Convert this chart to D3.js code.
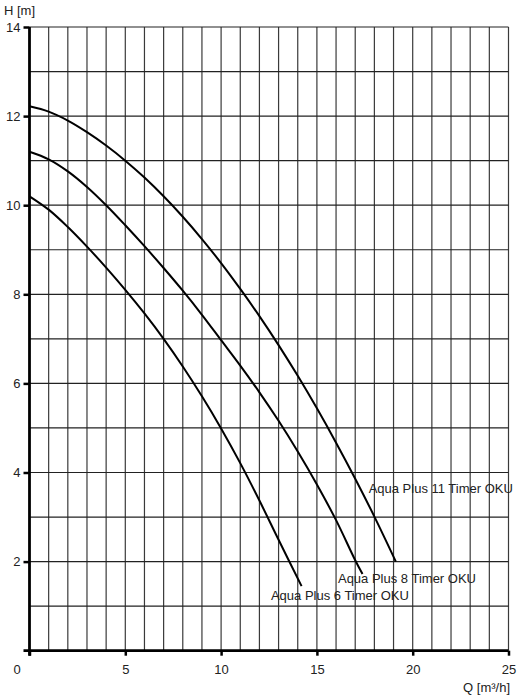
<!DOCTYPE html>
<html>
<head>
<meta charset="utf-8">
<script src="https://cdn.jsdelivr.net/npm/d3@7"></script>
<style>
  body { margin: 0; background: #fff; }
  text { font-family: "Liberation Sans", Arial, sans-serif; fill: #222; }
</style>
</head>
<body>
<div id="chart"></div>
<script>

const W = 517;
const H = 700;

const X_LEFT = 29.5;
const X_RIGHT = 508.5;
const Y_TOP = 27;
const Y_BOTTOM = 650.7;

// -------------------------------------------------

const x_ticks = [0, 5, 10, 15, 20, 25];
const y_ticks = [2, 4, 6, 8, 10, 12, 14];

const curve_names = ["Aqua Plus 6 Timer OKU", "Aqua Plus 8 Timer OKU", "Aqua Plus 11 Timer OKU"];

const curve_6 = [[0, 10.2], [1, 9.9], [2, 9.51], [3, 9.07], [4, 8.6], [5, 8.1], [6, 7.57], [7, 7.0],
                 [8, 6.38], [9, 5.71], [10, 4.99], [11, 4.21], [12, 3.37], [13, 2.49], [14.2, 1.45]];

const curve_8 = [[0, 11.2], [1, 11.03], [2, 10.76], [3, 10.41], [4, 10.0], [5, 9.55], [6, 9.08], [7, 8.59],
                 [8, 8.08], [9, 7.54], [10, 6.97], [11, 6.4], [12, 5.8], [13, 5.16], [14, 4.47],
                 [15, 3.73], [16, 2.93], [17, 2.03], [17.38, 1.72]];

const curve_11 = [[0, 12.22], [1, 12.1], [2, 11.9], [3, 11.64], [4, 11.34], [5, 11.0], [6, 10.62], [7, 10.2],
                  [8, 9.74], [9, 9.24], [10, 8.7], [11, 8.12], [12, 7.51], [13, 6.86], [14, 6.17],
                  [15, 5.44], [16, 4.67], [17, 3.86], [18, 3.01], [19.12, 2.0]];

// label anchor points in data units (left end of text baseline)
const label_pos = [[12.6, 1.13], [16.1, 1.52], [17.7, 3.54]];

// -------------------------------------------------

let svg = d3.select("#chart")
            .append("svg")
                .attr("width", W)
                .attr("height", H);

let scaleX = d3.scaleLinear()
                .domain([0, 25])
                .range([X_LEFT, X_RIGHT]);

let scaleY = d3.scaleLinear()
                .domain([0, 14])
                .range([Y_BOTTOM, Y_TOP]);

// ------------------------------------------------- grid

svg.append("g")
    .selectAll("line")
    .data(d3.range(1, 26))
    .join("line")
        .attr("x1", d => scaleX(d))
        .attr("x2", d => scaleX(d))
        .attr("y1", scaleY(14))
        .attr("y2", scaleY(0))
        .attr("stroke", "#3a3a3a")
        .attr("stroke-width", 1.2);

svg.append("g")
    .selectAll("line")
    .data(d3.range(1, 15))
    .join("line")
        .attr("x1", scaleX(0))
        .attr("x2", scaleX(25))
        .attr("y1", d => scaleY(d))
        .attr("y2", d => scaleY(d))
        .attr("stroke", "#222")
        .attr("stroke-width", 1.2);

// ------------------------------------------------- axes

let axisX = d3.axisBottom(scaleX)
                .tickValues(x_ticks)
                .tickSize(5)
                .tickSizeOuter(0)
                .tickFormat(d3.format("d"));

let gx = svg.append("g")
    .attr("transform", "translate(0," + Y_BOTTOM + ")")
    .call(axisX);

gx.select(".domain").remove();
gx.selectAll(".tick line").attr("stroke", "#000").attr("stroke-width", 2.5);
gx.selectAll(".tick text")
    .attr("y", 14)
    .attr("font-size", 13)
    .attr("fill", "#222")
    .attr("font-family", "Liberation Sans, Arial, sans-serif");
gx.selectAll(".tick").filter(d => d === 0).select("text").attr("x", -13);

let axisY = d3.axisLeft(scaleY)
                .tickValues(y_ticks)
                .tickSize(6)
                .tickSizeOuter(0)
                .tickFormat(d3.format("d"));

let gy = svg.append("g")
    .attr("transform", "translate(" + X_LEFT + ",0)")
    .call(axisY);

gy.select(".domain").remove();
gy.selectAll(".tick line").attr("stroke", "#000").attr("stroke-width", 2.5);
gy.selectAll(".tick text")
    .attr("x", -9)
    .attr("font-size", 13)
    .attr("fill", "#222")
    .attr("font-family", "Liberation Sans, Arial, sans-serif");

// thick axis lines
svg.append("line")
    .attr("x1", X_LEFT - 6)
    .attr("x2", X_RIGHT)
    .attr("y1", Y_BOTTOM)
    .attr("y2", Y_BOTTOM)
    .attr("stroke", "#000")
    .attr("stroke-width", 2.8);

svg.append("line")
    .attr("x1", X_LEFT)
    .attr("x2", X_LEFT)
    .attr("y1", Y_TOP)
    .attr("y2", Y_BOTTOM + 5)
    .attr("stroke", "#000")
    .attr("stroke-width", 2.8);

// axis titles
svg.append("text")
    .attr("x", 4)
    .attr("y", 15)
    .attr("font-size", 13)
    .text("H [m]");

svg.append("text")
    .attr("x", 510)
    .attr("y", 692)
    .attr("text-anchor", "end")
    .attr("font-size", 13)
    .text("Q [m³/h]");

// ------------------------------------------------- curves

let line_curve = d3.line()
                    .x(d => scaleX(d[0]))
                    .y(d => scaleY(d[1]))
                    .curve(d3.curveCatmullRom.alpha(0.5));

svg.append("g")
    .selectAll("path")
    .data([curve_6, curve_8, curve_11])
    .join("path")
        .attr("d", d => line_curve(d))
        .attr("fill", "none")
        .attr("stroke", "#000")
        .attr("stroke-width", 2);

svg.append("g")
    .selectAll("text")
    .data(curve_names)
    .join("text")
        .attr("x", (d, i) => scaleX(label_pos[i][0]))
        .attr("y", (d, i) => scaleY(label_pos[i][1]))
        .attr("font-size", 13)
        .text(d => d);

</script>
</body>
</html>
